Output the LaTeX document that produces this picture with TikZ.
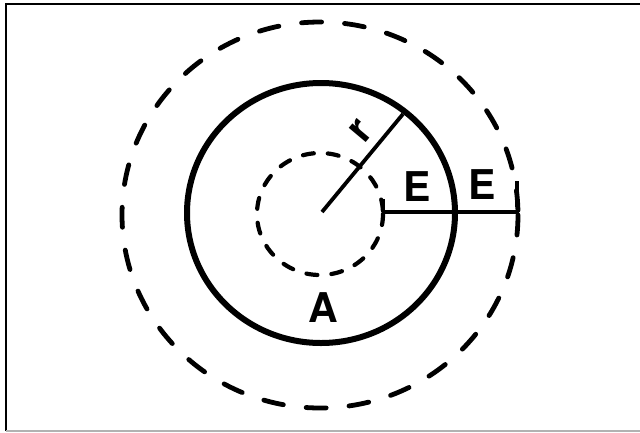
\documentclass[tikz,border=0pt]{standalone}
\usepackage{fontspec}
\setmainfont{TeX Gyre Heros}
\begin{document}
\begin{tikzpicture}[x=1pt,y=-1pt,
  outerdash/.style={line width=4.8pt,line cap=round,dash pattern=on 20pt off 23pt},
  innerdash/.style={line width=4.2pt,line cap=round,dash pattern=on 11pt off 14pt},
  letter/.style={font=\fontsize{41}{41}\selectfont\bfseries,inner sep=0pt}]
  \useasboundingbox (0,0) rectangle (640,432);

  % Draw frame
  \draw[line width=2pt] (6,431) -- (6,4) -- (641,4);
  \draw[line width=2pt,gray!60] (6,431) -- (641,431);

  % Define points
  \coordinate (O) at (322,212);
  \coordinate (R) at (403,114);
  \coordinate (Ea) at (383,212);
  \coordinate (Eb) at (517,212);

  % Draw the three circles
  \draw[outerdash] (320,215) ellipse [x radius=198,y radius=193];
  \draw[line width=6pt] (321,213) ellipse [x radius=134,y radius=130];
  \draw[innerdash] (320,214) ellipse [x radius=63,y radius=61];

  % Draw radius and thickness bar
  \draw[line width=3.8pt] (O) -- (R);
  \draw[line width=4pt] (Ea) -- (Eb);
  \draw[line width=3.8pt] (Ea) -- ++(0,-13);
  \draw[line width=3.8pt] ([yshift=5pt]Eb) -- ++(0,-26);

  % Labels
  \node[letter,rotate=50] (r) at (361,131) {r};
  \node[letter] (E1) at (417,187) {E};
  \node[letter] (E2) at (482,185) {E};
  \node[letter] (A) at (323,308) {A};
\end{tikzpicture}
\end{document}
